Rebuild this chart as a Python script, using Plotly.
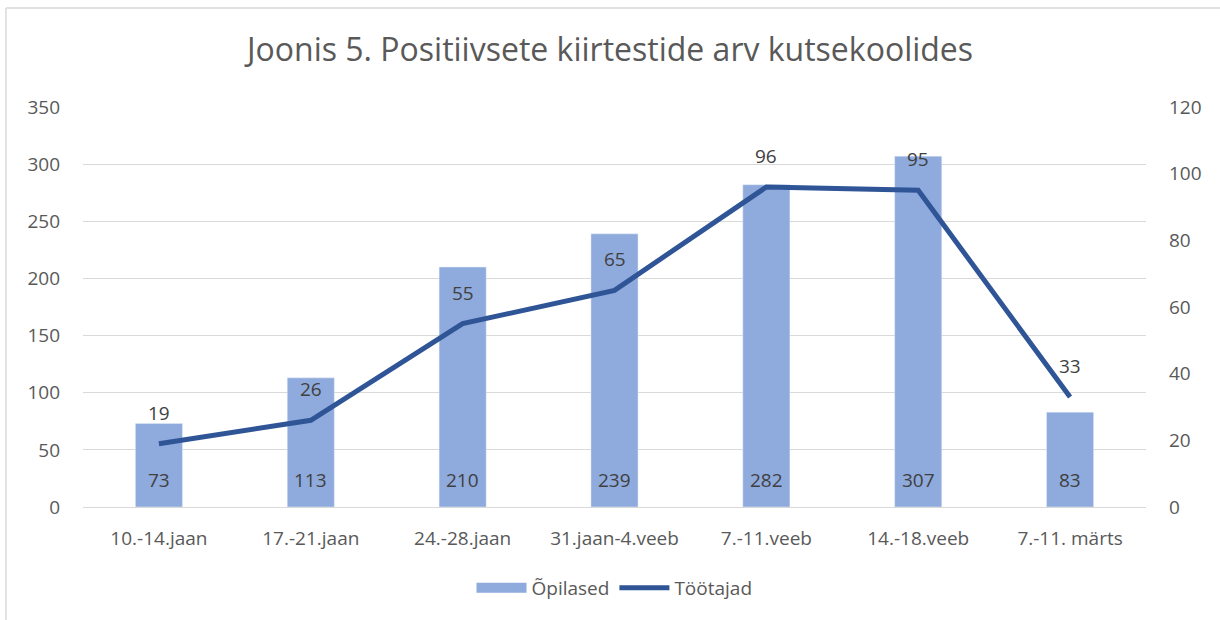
import plotly.graph_objects as go

categories = ["10.-14.jaan", "17.-21.jaan", "24.-28.jaan", "31.jaan-4.veeb",
              "7.-11.veeb", "14.-18.veeb", "7.-11. märts"]
opilased = [73, 113, 210, 239, 282, 307, 83]
tootajad = [19, 26, 55, 65, 96, 95, 33]
y_ticks = [0, 50, 100, 150, 200, 250, 300, 350]
y2_ticks = [0, 20, 40, 60, 80, 100, 120]

FONT = "Open Sans"
TXT = "#595959"
LBL = "#404040"
BAR_C = "#8FAADC"
LINE_C = "#2F5597"

fig = go.Figure()
fig.add_trace(go.Bar(x=categories, y=opilased, name="Õpilased", showlegend=False,
                     legendgroup="op", marker_color=BAR_C, hoverinfo="x+y"))
# legend entry drawn as a wide swatch (no data points)
fig.add_trace(go.Scatter(x=[None], y=[None], name="Õpilased", legendgroup="op",
                         mode="lines", line=dict(color=BAR_C, width=13), hoverinfo="skip"))
fig.add_trace(go.Scatter(x=categories, y=tootajad, name="Töötajad", yaxis="y2",
                         mode="lines", line=dict(color=LINE_C, width=5)))

annotations = []
for c, v in zip(categories, opilased):
    annotations.append(dict(x=c, y=0, xref="x", yref="y", text=str(v), showarrow=False,
                            yshift=27, font=dict(family=FONT, size=19, color=LBL)))
for c, v in zip(categories, tootajad):
    annotations.append(dict(x=c, y=v, xref="x", yref="y2", text=str(v), showarrow=False,
                            yshift=31, font=dict(family=FONT, size=19, color=LBL)))

fig.update_layout(
    width=1220, height=620,
    paper_bgcolor="white", plot_bgcolor="white",
    margin=dict(l=83, r=74, t=107, b=113),
    title=dict(text="Joonis 5. Positiivsete kiirtestide arv kutsekoolides",
               x=0.5, xanchor="center", y=0.919, yanchor="middle",
               font=dict(family=FONT, size=32, color=TXT)),
    font=dict(family=FONT, size=19, color=TXT),
    bargap=0.69,
    xaxis=dict(showgrid=False, showline=False, ticks="", ticklabelstandoff=18,
               tickfont=dict(size=19, color=TXT)),
    yaxis=dict(range=[0, 350], tickvals=y_ticks, gridcolor="#D9D9D9", gridwidth=1.3,
               zeroline=True, zerolinecolor="#D9D9D9", zerolinewidth=1.3,
               showline=False, ticks="", ticklabelstandoff=22,
               tickfont=dict(size=19, color=TXT)),
    yaxis2=dict(range=[0, 120], tickvals=y2_ticks, overlaying="y", side="right",
                showgrid=False, zeroline=False, showline=False, ticks="",
                ticklabelstandoff=22, tickfont=dict(size=19, color=TXT)),
    legend=dict(orientation="h", x=0.5, xanchor="center", y=-0.2025, yanchor="middle",
                font=dict(size=19, color=TXT), itemwidth=50),
    annotations=annotations,
    shapes=[
        dict(type="line", xref="paper", yref="paper", x0=-0.0725, x1=1.07,
             y0=1.2475, y1=1.2475, line=dict(color="#D9D9D9", width=1.5)),
        dict(type="line", xref="paper", yref="paper", x0=-0.0725, x1=-0.0725,
             y0=1.2475, y1=-0.29, line=dict(color="#D9D9D9", width=1.5)),
    ],
)

fig.write_html("out.html", config={"displayModeBar": False},
               post_script="document.body.style.margin='0px';")
